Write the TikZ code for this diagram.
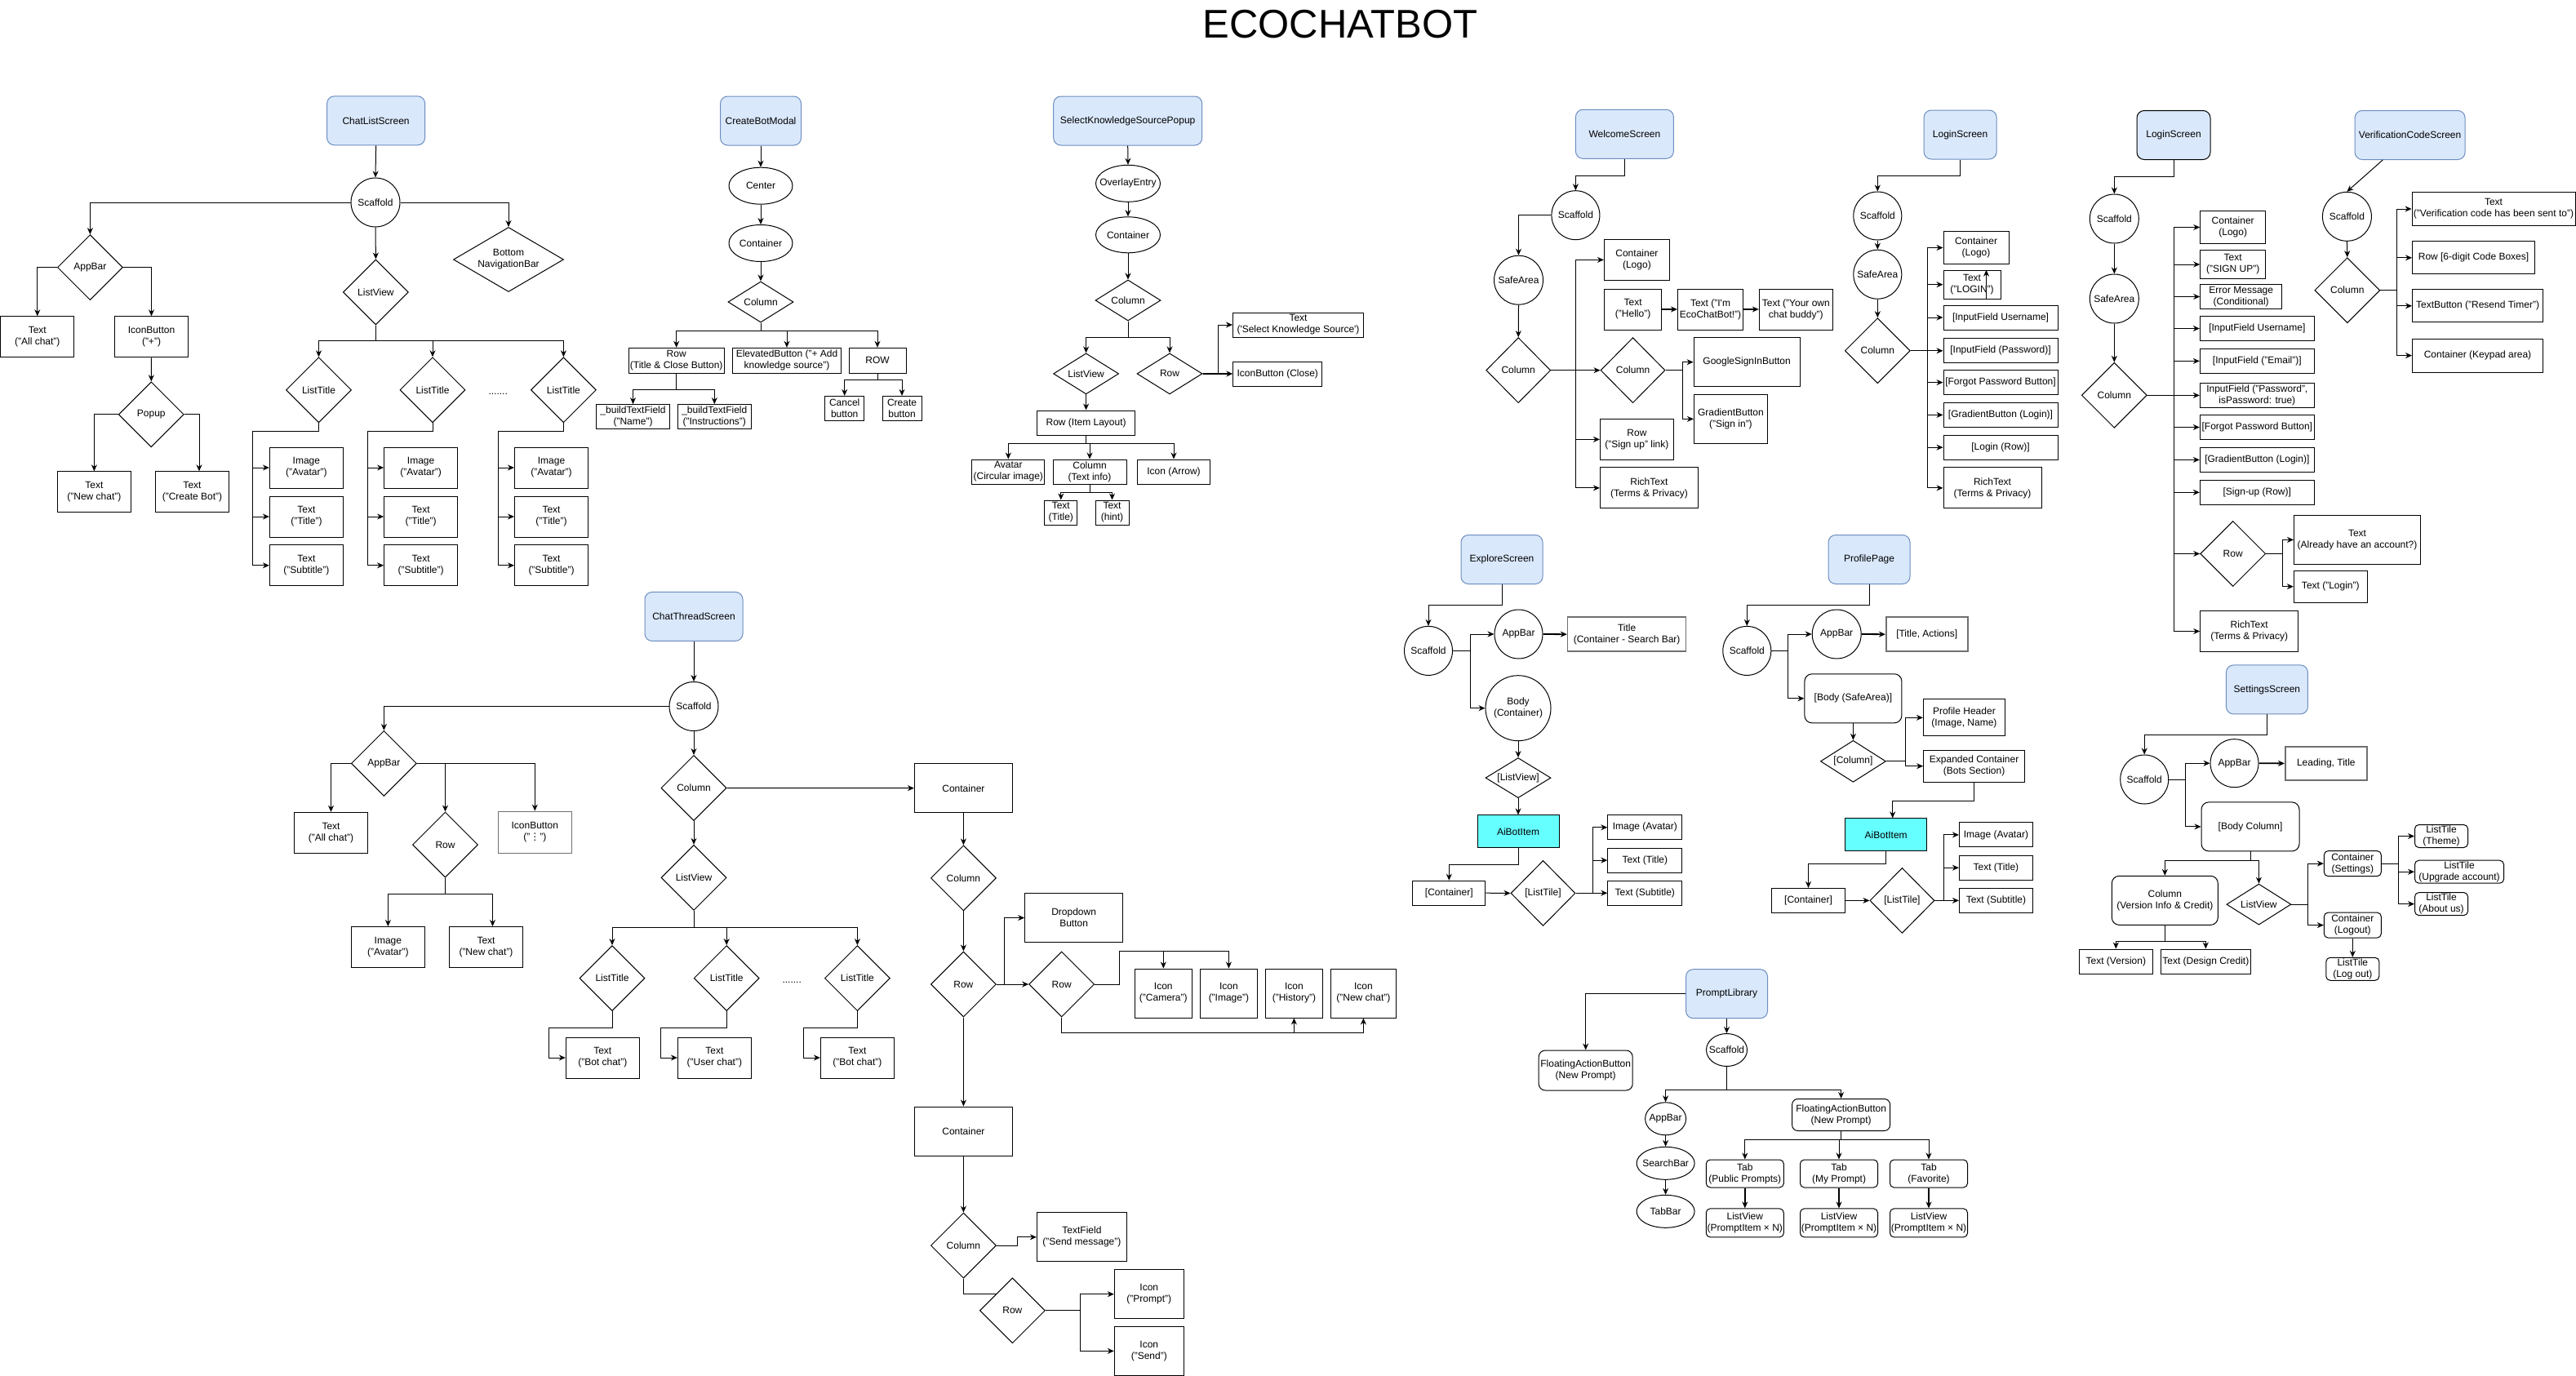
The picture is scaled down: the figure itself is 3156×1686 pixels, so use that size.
\documentclass[tikz,border=0pt]{standalone}
\usepackage{fontspec}
\setmainfont{Liberation Sans}
\newfontfamily\dejavu{DejaVu Sans}
\usetikzlibrary{shapes.geometric,arrows.meta}
\definecolor{scrfill}{HTML}{DAE8FC}
\definecolor{scrline}{HTML}{6C8EBF}
\definecolor{botfill}{HTML}{66FFFF}
\definecolor{greyline}{HTML}{707070}
\tikzset{
	scr/.style 2 args={draw=scrline,fill=scrfill,rounded corners=9pt,minimum width=#1pt,minimum height=#2pt,align=center,inner sep=1pt},
	bx/.style 2 args={draw,minimum width=#1pt,minimum height=#2pt,align=center,inner sep=1pt},
	rbx/.style 2 args={bx={#1}{#2},rounded corners=5pt},
	dia/.style 2 args={diamond,draw,minimum width=#1pt,minimum height=#2pt,inner sep=0pt,align=center},
	ov/.style 2 args={ellipse,draw,minimum width=#1pt,minimum height=#2pt,inner sep=0pt},
	gbx/.style={draw=greyline,line width=1.6pt},
	arr/.style={-{Stealth[length=8pt,width=7pt]}},
	thk/.style={line width=1.8pt},
}
\begin{document}
\begin{tikzpicture}[x=1pt,y=-1pt,line width=1pt,font=\fontsize{12}{14}\selectfont]
	\fill[white] (0,0) rectangle (3156,1686);
	\useasboundingbox (0,0) rectangle (3156,1686);
	\node[font=\fontsize{49}{56}\selectfont,anchor=base] (title) at (1642,47) {ECOCHATBOT};

	% chat list screen
	\node[scr={120}{60}] (cl_scr) at (460.6,147.8) {ChatListScreen};
	\node[ov={60}{60},label=center:Scaffold] (cl_scf) at (460,248) {};
	\node[dia={80}{80}] (cl_app) at (110.4,327.6) {AppBar};
	\node[dia={135}{79},aspect=1.7] (cl_bnb) at (623,318) {Bottom\\NavigationBar};
	\node[dia={80}{80}] (cl_lv) at (460.4,358) {ListView};
	\node[bx={90}{50}] (cl_all) at (45.8,412.8) {Text\\("All chat")};
	\node[bx={90}{50}] (cl_ib) at (185.5,412.8) {IconButton\\("+")};
	\node[dia={80}{80}] (cl_pop) at (185.3,507.8) {Popup};
	\node[bx={90}{50}] (cl_new) at (115.4,602.8) {Text\\("New chat")};
	\node[bx={90}{50}] (cl_cre) at (235.5,602.8) {Text\\("Create Bot")};
	\node[dia={80}{80}] (cl_lt1) at (390.5,477.8) {ListTitle};
	\node[dia={80}{80}] (cl_lt2) at (530,477.8) {ListTitle};
	\node[dia={80}{80}] (cl_lt3) at (690.4,477.8) {ListTitle};
	\node (cl_dots) at (610.2,482.9) {.......};
	\node[bx={90}{50}] (cl_img1) at (375.4,573) {Image\\("Avatar")};
	\node[bx={90}{50}] (cl_tt1) at (375.4,633) {Text\\("Title")};
	\node[bx={90}{50}] (cl_ts1) at (375.4,692.8) {Text\\("Subtitle")};
	\node[bx={90}{50}] (cl_img2) at (515.6,573) {Image\\("Avatar")};
	\node[bx={90}{50}] (cl_tt2) at (515.6,633) {Text\\("Title")};
	\node[bx={90}{50}] (cl_ts2) at (515.6,692.8) {Text\\("Subtitle")};
	\node[bx={90}{50}] (cl_img3) at (675.5,573) {Image\\("Avatar")};
	\node[bx={90}{50}] (cl_tt3) at (675.5,633) {Text\\("Title")};
	\node[bx={90}{50}] (cl_ts3) at (675.5,692.8) {Text\\("Subtitle")};
	\draw[arr] (cl_scr.south) -- (cl_scf.north);
	\draw[arr] (cl_scf.west) -| (cl_app.north);
	\draw[arr] (cl_scf.east) -| (cl_bnb.north);
	\draw[arr] (cl_scf.south) -- (cl_lv.north);
	\draw[arr] (cl_app.west) -| (cl_all.north);
	\draw[arr] (cl_app.east) -| (cl_ib.north);
	\draw[arr] (cl_ib.south) -- (cl_pop.north);
	\draw[arr] (cl_pop.west) -| (cl_new.north);
	\draw[arr] (cl_pop.east) -| ([xshift=8.5pt]cl_cre.north);
	\draw[arr] (cl_lv.south) -- ++(0,19.4) -| (cl_lt1.north);
	\draw[arr] (cl_lv.south) -- ++(0,19.4) -| (cl_lt2.north);
	\draw[arr] (cl_lv.south) -- ++(0,19.4) -| (cl_lt3.north);
	\draw[arr] (cl_lt1.south) -- ++(0,10) -| ([xshift=-20pt]cl_img1.west) -- (cl_img1.west);
	\draw[arr] (cl_lt1.south) -- ++(0,10) -| ([xshift=-20pt]cl_tt1.west) -- (cl_tt1.west);
	\draw[arr] (cl_lt1.south) -- ++(0,10) -| ([xshift=-20pt]cl_ts1.west) -- (cl_ts1.west);
	\draw[arr] (cl_lt2.south) -- ++(0,10) -| ([xshift=-20pt]cl_img2.west) -- (cl_img2.west);
	\draw[arr] (cl_lt2.south) -- ++(0,10) -| ([xshift=-20pt]cl_tt2.west) -- (cl_tt2.west);
	\draw[arr] (cl_lt2.south) -- ++(0,10) -| ([xshift=-20pt]cl_ts2.west) -- (cl_ts2.west);
	\draw[arr] (cl_lt3.south) -- ++(0,10) -| ([xshift=-20pt]cl_img3.west) -- (cl_img3.west);
	\draw[arr] (cl_lt3.south) -- ++(0,10) -| ([xshift=-20pt]cl_tt3.west) -- (cl_tt3.west);
	\draw[arr] (cl_lt3.south) -- ++(0,10) -| ([xshift=-20pt]cl_ts3.west) -- (cl_ts3.west);

	% create bot modal
	\node[scr={99}{60}] (cb_scr) at (932,148) {CreateBotModal};
	\node[ov={78}{45},label=center:Center] (cb_cen) at (932,227.7) {};
	\node[ov={78}{45},label=center:Container] (cb_con) at (932,298) {};
	\node[dia={80}{50},aspect=1.6] (cb_col) at (932,370) {Column};
	\node[bx={117}{31}] (cb_row) at (828.7,441.8) {Row\\(Title \& Close Button)};
	\node[bx={133}{31}] (cb_elb) at (964,441.8) {ElevatedButton ("+ Add\\knowledge source")};
	\node[bx={70}{31}] (cb_row2) at (1075,441.8) {ROW};
	\node[bx={90}{30}] (cb_nam) at (775.5,510.6) {\_buildTextField\\("Name")};
	\node[bx={90}{30}] (cb_ins) at (875.3,510.6) {\_buildTextField\\("Instructions")};
	\node[bx={48}{30}] (cb_can) at (1034.7,500.4) {Cancel\\button};
	\node[bx={48}{30}] (cb_crt) at (1105,500.4) {Create\\button};
	\draw[arr] (cb_scr.south) -- (cb_cen.north);
	\draw[arr] (cb_cen.south) -- (cb_con.north);
	\draw[arr] (cb_con.south) -- (cb_col.north);
	\draw[arr] (cb_col.south) -- ++(0,10.4) -| (cb_row.north);
	\draw[arr] (cb_col.south) -- ++(0,10.4) -| (cb_elb.north);
	\draw[arr] (cb_col.south) -- ++(0,10.4) -| (cb_row2.north);
	\draw[arr] (cb_row.south) -- ++(0,19.5) -| (cb_nam.north);
	\draw[arr] (cb_row.south) -- ++(0,19.5) -| (cb_ins.north);
	\draw[arr] (cb_row2.south) -- ++(0,7.7) -| (cb_can.north);
	\draw[arr] (cb_row2.south) -- ++(0,7.7) -| (cb_crt.north);

	% select knowledge source popup
	\node[scr={182}{60}] (ks_scr) at (1381.7,148) {SelectKnowledgeSourcePopup};
	\node[ov={79}{45},label=center:OverlayEntry] (ks_ovl) at (1382,224.8) {};
	\node[ov={79}{44},label=center:Container] (ks_con) at (1382,287.8) {};
	\node[dia={80}{50},aspect=1.6] (ks_col) at (1382,368) {Column};
	\node[dia={80}{50},aspect=1.6] (ks_lv) at (1330.6,457.9) {ListView};
	\node[dia={80}{50},aspect=1.6] (ks_row) at (1433,457.9) {Row};
	\node[bx={160}{30}] (ks_txt) at (1590.5,398) {Text\\(\textquotesingle Select Knowledge Source\textquotesingle)};
	\node[bx={109}{30}] (ks_ib) at (1565.3,458) {IconButton (Close)};
	\node[bx={120}{30}] (ks_ril) at (1330.6,518) {Row (Item Layout)};
	\node[bx={89}{30}] (ks_ava) at (1235.3,578) {Avatar\\(Circular image)};
	\node[bx={90}{30}] (ks_cti) at (1335,578) {Column\\(Text info)};
	\node[bx={89}{30}] (ks_ico) at (1438,578) {Icon (Arrow)};
	\node[bx={40}{30}] (ks_tt) at (1299.8,628) {Text\\(Title)};
	\node[bx={41}{30}] (ks_th) at (1362.5,628) {Text\\(hint)};
	\draw[arr] (ks_scr.south) -- (ks_ovl.north);
	\draw[arr] (ks_ovl.south) -- (ks_con.north);
	\draw[arr] (ks_con.south) -- (ks_col.north);
	\draw[arr] (ks_col.south) -- ++(0,20) -| (ks_lv.north);
	\draw[arr] (ks_col.south) -- ++(0,20) -| (ks_row.north);
	\draw[arr] (ks_row.east) -- ++(19,0) |- (ks_txt.west);
	\draw[arr,thk] (ks_row.east) -- (ks_ib.west);
	\draw[arr] (ks_lv.south) -- (ks_ril.north);
	\draw[arr] (ks_ril.south) -- ++(0,10) -| (ks_ava.north);
	\draw[arr] (ks_ril.south) -- ++(0,10) -| (ks_cti.north);
	\draw[arr] (ks_ril.south) -- ++(0,10) -| (ks_ico.north);
	\draw[arr] (ks_cti.south) -- ++(0,10) -| (ks_tt.north);
	\draw[arr] (ks_cti.south) -- ++(0,10) -| (ks_th.north);

	% welcome screen
	\node[scr={120}{60}] (ws_scr) at (1990.4,164.3) {WelcomeScreen};
	\node[ov={59}{60},label=center:Scaffold] (ws_scf) at (1930.4,263.7) {};
	\node[ov={60}{60},label=center:SafeArea] (ws_sfa) at (1860.5,343.2) {};
	\node[dia={79}{80}] (ws_col) at (1860.2,453.7) {Column};
	\node[bx={80}{50}] (ws_logo) at (2005.4,318.4) {Container\\(Logo)};
	\node[bx={70}{50}] (ws_hel) at (2000.6,379) {Text\\("Hello")};
	\node[bx={80}{50}] (ws_eco) at (2095.5,379) {Text ("I\textquotesingle m\\EcoChatBot!")};
	\node[bx={90}{50}] (ws_bud) at (2200.3,379) {Text ("Your own\\chat buddy")};
	\node[dia={79}{80}] (ws_col2) at (2000.5,453.7) {Column};
	\node[bx={130}{60}] (ws_goo) at (2140.1,443.7) {GoogleSignInButton};
	\node[bx={90}{60}] (ws_grd) at (2120.4,513.4) {GradientButton\\("Sign in")};
	\node[bx={90}{50}] (ws_row) at (2005.4,538.4) {Row\\("Sign up" link)};
	\node[bx={120}{50}] (ws_rich) at (2020.4,597.9) {RichText\\(Terms \& Privacy)};
	\draw[arr] (ws_scr.south) -- ++(0,20.2) -| (ws_scf.north);
	\draw[arr] (ws_scf.west) -| (ws_sfa.north);
	\draw[arr] (ws_sfa.south) -- (ws_col.north);
	\draw[arr] (ws_col.east) -- (ws_col2.west);
	\draw[arr] (ws_col.east) -- ++(30.5,0) |- (ws_logo.west);
	\draw[arr] (ws_col.east) -- ++(30.5,0) |- (ws_row.west);
	\draw[arr] (ws_col.east) -- ++(30.5,0) |- (ws_rich.west);
	\draw[arr,thk] (ws_hel.east) -- (ws_eco.west);
	\draw[arr,thk] (ws_eco.east) -- (ws_bud.west);
	\draw[arr] (ws_col2.east) -- ++(21,0) |- (ws_goo.west);
	\draw[arr] (ws_col2.east) -- ++(21,0) |- (ws_grd.west);

	% login screen
	\node[scr={89}{60}] (l1_scr) at (2401.6,165) {LoginScreen};
	\node[ov={59}{59},label=center:Scaffold] (l1_scf) at (2300.3,264.5) {};
	\node[ov={59}{60},label=center:SafeArea] (l1_sfa) at (2300.3,336.2) {};
	\node[dia={80}{80}] (l1_col) at (2300.3,429.7) {Column};
	\node[bx={80}{40}] (l1_logo) at (2421,303.5) {Container\\(Logo)};
	\node[bx={70}{35}] (l1_txt) at (2416,348.7) {Text\\("LOGIN")};
	\node[bx={140}{30}] (l1_usr) at (2451,389) {[InputField Username]};
	\node[bx={140}{30}] (l1_pwd) at (2451,429.8) {[InputField (Password)]};
	\node[bx={140}{30}] (l1_fgt) at (2451,468.6) {[Forgot Password Button]};
	\node[bx={140}{30}] (l1_grd) at (2451,508.4) {[GradientButton (Login)]};
	\node[bx={140}{30}] (l1_lrw) at (2451,548.2) {[Login (Row)]};
	\node[bx={120}{50}] (l1_rich) at (2441,597.9) {RichText\\(Terms \& Privacy)};
	\draw[arr] (l1_scr.south) -- ++(0,20) -| (l1_scf.north);
	\draw[arr] (l1_scf.south) -- (l1_sfa.north);
	\draw[arr] (l1_sfa.south) -- (l1_col.north);
	\draw[arr] (l1_col.east) -- ++(20.2,0) |- (l1_logo.west);
	\draw[arr] (l1_col.east) -- ++(20.2,0) |- (l1_txt.west);
	\draw[arr] (l1_col.east) -- ++(20.2,0) |- (l1_usr.west);
	\draw[arr] (l1_col.east) -- ++(20.2,0) |- (l1_pwd.west);
	\draw[arr] (l1_col.east) -- ++(20.2,0) |- (l1_fgt.west);
	\draw[arr] (l1_col.east) -- ++(20.2,0) |- (l1_grd.west);
	\draw[arr] (l1_col.east) -- ++(20.2,0) |- (l1_lrw.west);
	\draw[arr] (l1_col.east) -- ++(20.2,0) |- (l1_rich.west);
	\draw[arr] ([xshift=17.5pt]l1_txt.south) -- ([xshift=17.5pt]l1_txt.north);

	% login screen (sign up)
	\node[scr={90}{60},draw=black] (l2_scr) at (2663,165.5) {LoginScreen};
	\node[ov={60}{60},label=center:Scaffold] (l2_scf) at (2590.3,268) {};
	\node[ov={60}{60},label=center:SafeArea] (l2_sfa) at (2590.3,366) {};
	\node[dia={80}{80}] (l2_col) at (2590.3,484.3) {Column};
	\node[bx={80}{40}] (l2_logo) at (2735.7,278.5) {Container\\(Logo)};
	\node[bx={80}{35}] (l2_sgn) at (2735.7,324) {Text\\("SIGN UP")};
	\node[bx={100}{30}] (l2_err) at (2745.7,363.5) {Error Message\\(Conditional)};
	\node[bx={140}{30}] (l2_usr) at (2765.3,402.5) {[InputField Username]};
	\node[bx={140}{30}] (l2_eml) at (2765.3,442.4) {[InputField ("Email")]};
	\node[bx={140}{30}] (l2_pwd) at (2765.3,484.4) {InputField ("Password",\\isPassword: true)};
	\node[bx={140}{30}] (l2_fgt) at (2765.3,523.5) {[Forgot Password Button]};
	\node[bx={140}{30}] (l2_grd) at (2765.3,563.4) {[GradientButton (Login)]};
	\node[bx={140}{30}] (l2_sup) at (2765.3,603.3) {[Sign-up (Row)]};
	\node[dia={80}{80}] (l2_row) at (2735.7,678.5) {Row};
	\node[bx={155}{60}] (l2_alr) at (2888,661.4) {Text\\(Already have an account?)};
	\node[bx={90}{39}] (l2_lgn) at (2855.3,718.7) {Text ("Login")};
	\node[bx={120}{50}] (l2_rich) at (2755.7,773.5) {RichText\\(Terms \& Privacy)};
	\draw[arr] (l2_scr.south) -- ++(0,20.8) -| (l2_scf.north);
	\draw[arr] (l2_scf.south) -- (l2_sfa.north);
	\draw[arr] (l2_sfa.south) -- (l2_col.north);
	\draw[arr] (l2_col.east) -- ++(33,0) |- (l2_logo.west);
	\draw[arr] (l2_col.east) -- ++(33,0) |- (l2_sgn.west);
	\draw[arr] (l2_col.east) -- ++(33,0) |- (l2_err.west);
	\draw[arr] (l2_col.east) -- ++(33,0) |- (l2_usr.west);
	\draw[arr] (l2_col.east) -- ++(33,0) |- (l2_eml.west);
	\draw[arr] (l2_col.east) -- ++(33,0) |- (l2_pwd.west);
	\draw[arr] (l2_col.east) -- ++(33,0) |- (l2_fgt.west);
	\draw[arr] (l2_col.east) -- ++(33,0) |- (l2_grd.west);
	\draw[arr] (l2_col.east) -- ++(33,0) |- (l2_sup.west);
	\draw[arr] (l2_col.east) -- ++(33,0) |- (l2_row.west);
	\draw[arr] (l2_col.east) -- ++(33,0) |- (l2_rich.west);
	\draw[arr] (l2_row.east) -- ++(20,0) |- (l2_alr.west);
	\draw[arr] (l2_row.east) -- ++(20,0) |- (l2_lgn.west);

	% verification code screen
	\node[scr={135}{60}] (vc_scr) at (2952.6,165.5) {VerificationCodeScreen};
	\node[ov={60}{60},label=center:Scaffold] (vc_scf) at (2875.4,265.3) {};
	\node[dia={80}{80}] (vc_col) at (2875.8,355.7) {Column};
	\node[bx={200}{41}] (vc_txt) at (3055,256) {Text\\("Verification code has been sent to")};
	\node[bx={150}{40}] (vc_row) at (3030.5,315.8) {Row [6-digit Code Boxes]};
	\node[bx={160}{40}] (vc_tb) at (3035.5,374.8) {TextButton ("Resend Timer")};
	\node[bx={160}{41}] (vc_kp) at (3035.5,435.6) {Container (Keypad area)};
	\draw[arr] ([xshift=-33.4pt]vc_scr.south) -- (vc_scf.north);
	\draw[arr] (vc_scf.south) -- (vc_col.north);
	\draw[arr] (vc_col.east) -- ++(20,0) |- (vc_txt.west);
	\draw[arr] (vc_col.east) -- ++(20,0) |- (vc_row.west);
	\draw[arr] (vc_col.east) -- ++(20,0) |- (vc_tb.west);
	\draw[arr] (vc_col.east) -- ++(20,0) |- (vc_kp.west);

	% chat thread screen
	\node[scr={120}{60}] (ct_scr) at (850,755.4) {ChatThreadScreen};
	\node[ov={60}{60},label=center:Scaffold] (ct_scf) at (850,865.5) {};
	\node[dia={80}{80}] (ct_app) at (470.4,935.4) {AppBar};
	\node[bx={90}{50}] (ct_all) at (405.5,1020.3) {Text\\("All chat")};
	\node[dia={80}{80}] (ct_row) at (545.5,1035) {Row};
	\node[bx={90}{51},gbx] (ct_ib) at (655.3,1019.9) {IconButton\\("{\dejavu ⋮}")};
	\node[bx={90}{50}] (ct_img) at (475.4,1160.5) {Image\\("Avatar")};
	\node[bx={90}{50}] (ct_new) at (595.5,1160.5) {Text\\("New chat")};
	\node[dia={80}{80}] (ct_col) at (850,965.5) {Column};
	\node[dia={80}{80}] (ct_lv) at (850,1075.4) {ListView};
	\node[dia={80}{80}] (ct_lt1) at (750,1198.6) {ListTitle};
	\node[dia={80}{80}] (ct_lt2) at (890.2,1198.6) {ListTitle};
	\node[dia={80}{80}] (ct_lt3) at (1050.4,1198.6) {ListTitle};
	\node (ct_dots) at (970.2,1203.7) {.......};
	\node[bx={90}{50}] (ct_bot1) at (738.3,1296) {Text\\("Bot chat")};
	\node[bx={90}{50}] (ct_usr) at (875.4,1296) {Text\\("User chat")};
	\node[bx={90}{50}] (ct_bot2) at (1050.4,1296) {Text\\("Bot chat")};
	\node[bx={120}{60}] (ct_con1) at (1180.4,965.7) {Container};
	\node[dia={80}{80}] (ct_col2) at (1180.4,1075.9) {Column};
	\node[dia={80}{80}] (ct_row2) at (1180.4,1206) {Row};
	\node[bx={120}{60}] (ct_dd) at (1315.6,1124.6) {Dropdown\\Button};
	\node[dia={80}{80}] (ct_row3) at (1300.7,1206) {Row};
	\node[bx={70}{60}] (ct_cam) at (1425.3,1217) {Icon\\("Camera")};
	\node[bx={70}{60}] (ct_ima) at (1505.4,1217) {Icon\\("Image")};
	\node[bx={70}{60}] (ct_his) at (1585.4,1217) {Icon\\("History")};
	\node[bx={80}{60}] (ct_nch) at (1670.4,1217) {Icon\\("New chat")};
	\node[bx={120}{60}] (ct_con2) at (1180.4,1386) {Container};
	\node[dia={80}{80}] (ct_col3) at (1180.4,1526.1) {Column};
	\node[bx={110}{60}] (ct_tf) at (1325.4,1515.8) {TextField\\("Send message")};
	\node[dia={80}{80}] (ct_row4) at (1240.4,1605.8) {Row};
	\node[bx={85}{60}] (ct_pr) at (1407.8,1585.7) {Icon\\("Prompt")};
	\node[bx={85}{60}] (ct_snd) at (1407.8,1655.4) {Icon\\("Send")};
	\draw[arr] (ct_scr.south) -- (ct_scf.north);
	\draw[arr] (ct_scf.west) -| (ct_app.north);
	\draw[arr] (ct_app.west) -| (ct_all.north);
	\draw[arr] (ct_app.east) -| (ct_row.north);
	\draw[arr] (ct_app.east) -| (ct_ib.north);
	\draw[arr] (ct_row.south) -- ++(0,20.4) -| (ct_img.north);
	\draw[arr] (ct_row.south) -- ++(0,20.4) -| ([xshift=8pt]ct_new.north);
	\draw[arr] (ct_scf.south) -- (ct_col.north);
	\draw[arr] (ct_col.south) -- (ct_lv.north);
	\draw[arr] (ct_lv.south) -- ++(0,20.2) -| (ct_lt1.north);
	\draw[arr] (ct_lv.south) -- ++(0,20.2) -| (ct_lt2.north);
	\draw[arr] (ct_lv.south) -- ++(0,20.2) -| (ct_lt3.north);
	\draw[arr] (ct_lt1.south) -- ++(0,20) -| ([xshift=-20pt]ct_bot1.west) -- (ct_bot1.west);
	\draw[arr] (ct_lt2.south) -- ++(0,20) -| ([xshift=-20pt]ct_usr.west) -- (ct_usr.west);
	\draw[arr] (ct_lt3.south) -- ++(0,20) -| ([xshift=-20pt]ct_bot2.west) -- (ct_bot2.west);
	\draw[arr] (ct_col.east) -- (ct_con1.west);
	\draw[arr] (ct_con1.south) -- (ct_col2.north);
	\draw[arr] (ct_col2.south) -- (ct_row2.north);
	\draw[arr] (ct_row2.east) -- (ct_row3.west);
	\draw[arr] (ct_row2.east) -- ++(10,0) |- (ct_dd.west);
	\draw[arr] (ct_row3.east) -- ++(29.8,0) |- ([yshift=21.3pt]ct_cam.north) -- (ct_cam.north);
	\draw[arr] (ct_row3.east) -- ++(29.8,0) |- ([yshift=21.3pt]ct_ima.north) -- (ct_ima.north);
	\draw[arr] (ct_row3.south) -- ++(0,19) -| (ct_his.south);
	\draw[arr] (ct_row3.south) -- ++(0,19) -| (ct_nch.south);
	\draw[arr] (ct_row2.south) -- (ct_con2.north);
	\draw[arr] (ct_con2.south) -- (ct_col3.north);
	\draw[arr] (ct_col3.east) -- ++(25.3,0) |- (ct_tf.west);
	\draw (ct_col3.south) |- (ct_row4.north west);
	\draw[arr] (ct_row4.east) -- ++(42.4,0) |- (ct_pr.west);
	\draw[arr] (ct_row4.east) -- ++(42.4,0) |- (ct_snd.west);

	% explore screen
	\node[scr={100}{60}] (ex_scr) at (1840,685.5) {ExploreScreen};
	\node[ov={59}{60},label=center:Scaffold] (ex_scf) at (1750,797.4) {};
	\node[ov={59}{60},label=center:AppBar] (ex_app) at (1860.5,777) {};
	\node[bx={145}{42},gbx] (ex_ttl) at (1993.1,777.2) {Title\\(Container - Search Bar)};
	\node[ov={80}{80},label={[align=center]center:Body\\(Container)}] (ex_body) at (1860,867.7) {};
	\node[dia={80}{49},aspect=1.6] (ex_lv) at (1860,953.1) {[ListView]};
	\node[bx={100}{40},fill=botfill] (ex_bot) at (1860,1018.9) {AiBotItem};
	\node[bx={89}{30}] (ex_con) at (1775.3,1094.2) {[Container]};
	\node[dia={79}{80}] (ex_lt) at (1890.5,1094.4) {[ListTile]};
	\node[bx={91}{30}] (ex_img) at (2015.3,1013.8) {Image (Avatar)};
	\node[bx={91}{30}] (ex_tt) at (2015.3,1054.1) {Text (Title)};
	\node[bx={91}{30}] (ex_ts) at (2015.3,1094.2) {Text (Subtitle)};
	\draw[arr] (ex_scr.south) -- ++(0,25.8) -| (ex_scf.north);
	\draw[arr] (ex_scf.east) -- ++(21,0) |- (ex_app.west);
	\draw[arr] (ex_scf.east) -- ++(21,0) |- (ex_body.west);
	\draw[arr,thk] (ex_app.east) -- (ex_ttl.west);
	\draw[arr] (ex_body.south) -- (ex_lv.north);
	\draw[arr] (ex_lv.south) -- (ex_bot.north);
	\draw[arr] (ex_bot.south) -- ++(0,20.2) -| (ex_con.north);
	\draw[arr] (ex_con.east) -- (ex_lt.west);
	\draw[arr] (ex_lt.east) -- ++(20.5,0) |- (ex_img.west);
	\draw[arr] (ex_lt.east) -- ++(20.5,0) |- (ex_tt.west);
	\draw[arr] (ex_lt.east) -- ++(20.5,0) |- (ex_ts.west);

	% profile page
	\node[scr={100}{60}] (pp_scr) at (2290,685.5) {ProfilePage};
	\node[ov={59}{60},label=center:Scaffold] (pp_scf) at (2140.3,797.4) {};
	\node[ov={60}{60},label=center:AppBar] (pp_app) at (2250.2,777) {};
	\node[bx={100}{42},gbx] (pp_ttl) at (2360.7,777.2) {[Title, Actions]};
	\node[rbx={119}{60},rounded corners=9pt] (pp_body) at (2270.4,855.8) {[Body (SafeArea)]};
	\node[dia={80}{51},aspect=1.6] (pp_col) at (2270.4,932.8) {[Column]};
	\node[bx={100}{45}] (pp_hdr) at (2406.4,879.3) {Profile Header\\(Image, Name)};
	\node[bx={124}{39}] (pp_exp) at (2418.6,938.7) {Expanded Container\\(Bots Section)};
	\node[bx={100}{40},fill=botfill] (pp_bot) at (2310.7,1022.9) {AiBotItem};
	\node[bx={90}{30}] (pp_con) at (2215.5,1103.4) {[Container]};
	\node[dia={79}{80}] (pp_lt) at (2330.4,1103.4) {[ListTile]};
	\node[bx={90}{30}] (pp_img) at (2445.4,1022.9) {Image (Avatar)};
	\node[bx={90}{30}] (pp_tt) at (2445.4,1063.2) {Text (Title)};
	\node[bx={90}{30}] (pp_ts) at (2445.4,1103.4) {Text (Subtitle)};
	\draw[arr] (pp_scr.south) -- ++(0,25.8) -| (pp_scf.north);
	\draw[arr] (pp_scf.east) -- ++(20.5,0) |- (pp_app.west);
	\draw[arr] (pp_scf.east) -- ++(20.5,0) |- (pp_body.west);
	\draw[arr,thk] (pp_app.east) -- (pp_ttl.west);
	\draw[arr] (pp_body.south) -- (pp_col.north);
	\draw[arr] (pp_col.east) -- ++(23.3,0) |- (pp_hdr.west);
	\draw[arr] (pp_col.east) -- ++(23.3,0) |- (pp_exp.west);
	\draw[arr] (pp_exp.south) -- ++(0,22.7) -| ([xshift=8pt]pp_bot.north);
	\draw[arr] (pp_bot.south) -- ++(0,15.2) -| (pp_con.north);
	\draw[arr] (pp_con.east) -- (pp_lt.west);
	\draw[arr] (pp_lt.east) -- ++(11.2,0) |- (pp_img.west);
	\draw[arr] (pp_lt.east) -- ++(11.2,0) |- (pp_tt.west);
	\draw[arr] (pp_lt.east) -- ++(11.2,0) |- (pp_ts.west);

	% settings screen
	\node[scr={100}{60}] (st_scr) at (2777.4,844.9) {SettingsScreen};
	\node[ov={59}{60},label=center:Scaffold] (st_scf) at (2627.2,955) {};
	\node[ov={59}{59},label=center:AppBar] (st_app) at (2737.5,935.2) {};
	\node[bx={100}{41},gbx] (st_lt) at (2849.8,935.4) {Leading, Title};
	\node[rbx={120}{60},rounded corners=9pt] (st_body) at (2757,1012.9) {[Body Column]};
	\node[rbx={130}{60},rounded corners=9pt] (st_col) at (2652.3,1103.3) {Column\\(Version Info \& Credit)};
	\node[dia={79}{50},aspect=1.6] (st_lv) at (2767.4,1108.1) {ListView};
	\node[bx={90}{30}] (st_ver) at (2592.3,1178) {Text (Version)};
	\node[bx={110}{30}] (st_dsg) at (2702.3,1178) {Text (Design Credit)};
	\node[rbx={70}{31}] (st_cst) at (2882.3,1058.1) {Container\\(Settings)};
	\node[rbx={70}{31}] (st_clo) at (2882.3,1133.6) {Container\\(Logout)};
	\node[rbx={65}{28}] (st_llo) at (2882.3,1187.3) {ListTile\\(Log out)};
	\node[rbx={65}{28}] (st_thm) at (2991,1024.5) {ListTile\\(Theme)};
	\node[rbx={109}{28}] (st_upg) at (3013,1068.2) {ListTile\\(Upgrade account)};
	\node[rbx={65}{28}] (st_abt) at (2991,1107.6) {ListTile\\(About us)};
	\draw[arr] (st_scr.south) -- ++(0,25.1) -| (st_scf.north);
	\draw[arr] (st_scf.east) -- ++(20.7,0) |- (st_app.west);
	\draw[arr] (st_scf.east) -- ++(20.7,0) |- (st_body.west);
	\draw[arr,thk] (st_app.east) -- (st_lt.west);
	\draw[arr] (st_body.south) -- ++(0,10.7) -| (st_col.north);
	\draw[arr] (st_body.south) -- ++(0,10.7) -| (st_lv.north);
	\draw[arr] (st_col.south) -- ++(0,20) -| (st_ver.north);
	\draw[arr] (st_col.south) -- ++(0,20) -| (st_dsg.north);
	\draw[arr] (st_lv.east) -- ++(20.3,0) |- (st_cst.west);
	\draw[arr] (st_lv.east) -- ++(20.3,0) |- (st_clo.west);
	\draw[arr] (st_clo.south) -- (st_llo.north);
	\draw[arr] (st_cst.east) -- ++(20.7,0) |- (st_thm.west);
	\draw[arr] (st_cst.east) -- ++(20.7,0) |- (st_upg.west);
	\draw[arr] (st_cst.east) -- ++(20.7,0) |- (st_abt.west);

	% prompt library
	\node[scr={100}{60}] (pl_scr) at (2115.5,1217.7) {PromptLibrary};
	\node[rbx={115}{49},rounded corners=8pt] (pl_fab1) at (1942.7,1311.5) {FloatingActionButton\\(New Prompt)};
	\node[ov={50}{40},label=center:Scaffold] (pl_scf) at (2115.5,1286.5) {};
	\node[ov={50}{40},label=center:AppBar] (pl_app) at (2040.6,1370.8) {};
	\node[ov={71}{40},label=center:SearchBar] (pl_sb) at (2040.6,1425.3) {};
	\node[ov={71}{40},label=center:TabBar] (pl_tb) at (2040.6,1484.3) {};
	\node[rbx={120}{39},rounded corners=7pt] (pl_fab2) at (2255.6,1366) {FloatingActionButton\\(New Prompt)};
	\node[rbx={95}{34}] (pl_tab1) at (2137.8,1438) {Tab\\(Public Prompts)};
	\node[rbx={95}{34}] (pl_tab2) at (2253,1438) {Tab\\(My Prompt)};
	\node[rbx={95}{34}] (pl_tab3) at (2363,1438) {Tab\\(Favorite)};
	\node[rbx={95}{35}] (pl_lv1) at (2137.8,1498.4) {ListView\\(PromptItem × N)};
	\node[rbx={95}{35}] (pl_lv2) at (2253,1498.4) {ListView\\(PromptItem × N)};
	\node[rbx={95}{35}] (pl_lv3) at (2363,1498.4) {ListView\\(PromptItem × N)};
	\draw[arr] (pl_scr.west) -| (pl_fab1.north);
	\draw[arr] (pl_scr.south) -- (pl_scf.north);
	\draw[arr] (pl_scf.south) -- ++(0,28.9) -| (pl_app.north);
	\draw[arr] (pl_scf.south) -- ++(0,28.9) -| (pl_fab2.north);
	\draw[arr] (pl_app.south) -- (pl_sb.north);
	\draw[arr] (pl_sb.south) -- (pl_tb.north);
	\draw[arr] (pl_fab2.south) -- ++(0,10.2) -| (pl_tab1.north);
	\draw[arr] (pl_fab2.south) -- ++(0,10.2) -| (pl_tab2.north);
	\draw[arr] (pl_fab2.south) -- ++(0,10.2) -| (pl_tab3.north);
	\draw[arr,thk] (pl_tab1.south) -- (pl_lv1.north);
	\draw[arr,thk] (pl_tab2.south) -- (pl_lv2.north);
	\draw[arr,thk] (pl_tab3.south) -- (pl_lv3.north);
\end{tikzpicture}
\end{document}
